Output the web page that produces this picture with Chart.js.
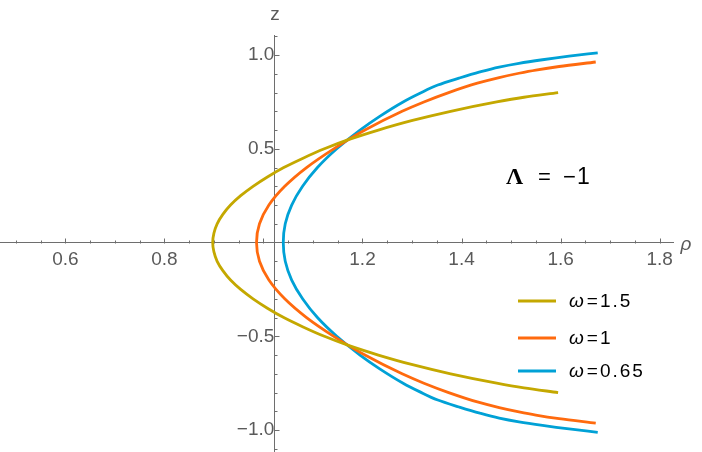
<!DOCTYPE html>
<html>
<head>
<meta charset="utf-8">
<script src="https://cdn.jsdelivr.net/npm/chart.js@4"></script>
<style>
  body { margin: 0; background: #fff; }
  canvas { display: block; }
</style>
</head>
<body>
<canvas id="plot" width="702" height="452"></canvas>
<script>
// curves: rho (x) and z (y), bottom end -> top end
var zW15 = [-0.80, -0.775, -0.75, -0.70, -0.65, -0.60, -0.55, -0.50, -0.45, -0.40, -0.35, -0.30, -0.25, -0.20, -0.15, -0.10, -0.05, 0,
            0.05, 0.10, 0.15, 0.20, 0.25, 0.30, 0.35, 0.40, 0.45, 0.50, 0.55, 0.60, 0.65, 0.70, 0.75, 0.775, 0.80];
var rhoW15 = [1.595, 1.526, 1.471, 1.378, 1.299, 1.232, 1.173, 1.123, 1.080, 1.041, 1.008, 0.979, 0.954, 0.9335, 0.918, 0.9065, 0.900, 0.8975,
              0.900, 0.9065, 0.918, 0.9335, 0.954, 0.979, 1.008, 1.041, 1.080, 1.123, 1.173, 1.232, 1.299, 1.378, 1.471, 1.526, 1.595];

var zW1 = [-0.963, -0.939, -0.92, -0.903, -0.88, -0.85, -0.80, -0.75, -0.70, -0.60, -0.50, -0.40, -0.30, -0.20, -0.10, 0,
           0.10, 0.20, 0.30, 0.40, 0.50, 0.60, 0.70, 0.75, 0.80, 0.85, 0.88, 0.903, 0.92, 0.939, 0.963];
var rhoW1 = [1.671, 1.597, 1.550, 1.516, 1.476, 1.432, 1.374, 1.324, 1.280, 1.205, 1.142, 1.087, 1.043, 1.011, 0.992, 0.986,
             0.992, 1.011, 1.043, 1.087, 1.142, 1.205, 1.280, 1.324, 1.374, 1.432, 1.476, 1.516, 1.550, 1.597, 1.671];

var zW065 = [-1.012, -0.994, -0.975, -0.956, -0.936, -0.91, -0.877, -0.84, -0.795, -0.75, -0.672, -0.60, -0.50, -0.40, -0.30, -0.20, -0.10, 0,
             0.10, 0.20, 0.30, 0.40, 0.50, 0.60, 0.672, 0.75, 0.795, 0.84, 0.877, 0.91, 0.936, 0.956, 0.975, 0.994, 1.012];
var rhoW065 = [1.675, 1.617, 1.5635, 1.516, 1.476, 1.437, 1.395, 1.352, 1.315, 1.282, 1.234, 1.195, 1.148, 1.109, 1.079, 1.057, 1.044, 1.040,
               1.044, 1.057, 1.079, 1.109, 1.148, 1.195, 1.234, 1.282, 1.315, 1.352, 1.395, 1.437, 1.476, 1.516, 1.5635, 1.617, 1.675];

var seriesLabels = ["1.5", "1", "0.65"];
var seriesColors = ["#C4A800", "#FF6A0E", "#00A1D6"];

var axisColor = "#6e6e6e";
var labelColor = "#5a5a5a";
var fontFam = "'Liberation Sans', Arial, sans-serif";

function toPoints(xs, ys) {
    return xs.map(function (v, i) { return { x: v, y: ys[i] }; });
}

// curves are single valued in z, so let z be the index axis for the spline
function makeSet(label, color, xs, ys) {
    return {
        label: label,
        data: toPoints(xs, ys),
        indexAxis: 'y',
        cubicInterpolationMode: 'monotone',
        borderColor: color,
        backgroundColor: color,
        borderWidth: 2.8,
        pointRadius: 0,
        fill: false,
        clip: false
    };
}

// small tick marks like mathematica (up for x axis, right for z axis)
var tickMarks = {
    id: 'tickMarks',
    beforeDatasetsDraw: function (chart) {
        var ctx = chart.ctx;
        var xs = chart.scales.x, ys = chart.scales.y;
        var x0 = Math.round(xs.getPixelForValue(ys.options.position.x)) + 0.5;
        var y0 = Math.round(ys.getPixelForValue(xs.options.position.y)) + 0.5;
        ctx.save();
        ctx.strokeStyle = axisColor;
        ctx.lineWidth = 1;
        ctx.beginPath();
        for (var i = 10; i <= 36; i++) {
            var px = Math.round(xs.getPixelForValue(i * 0.05)) + 0.5;
            var len = (i % 4 == 0) ? 5 : 3;
            ctx.moveTo(px, y0);
            ctx.lineTo(px, y0 - len);
        }
        for (var j = -11; j <= 11; j++) {
            if (j == 0) continue;
            var py = Math.round(ys.getPixelForValue(j * 0.1)) + 0.5;
            var ln = (j % 5 == 0) ? 5 : 3;
            ctx.moveTo(x0, py);
            ctx.lineTo(x0 + ln, py);
        }
        ctx.stroke();
        ctx.restore();
    }
};

var annotations = {
    id: 'annotations',
    afterDraw: function (chart) {
        var ctx = chart.ctx;
        ctx.save();
        // axis names
        ctx.fillStyle = labelColor;
        ctx.textBaseline = "alphabetic";
        ctx.textAlign = "center";
        ctx.font = "19px " + fontFam;
        ctx.fillText("z", 275, 20);
        ctx.font = "italic 19px " + fontFam;
        ctx.fillText("\u03C1", 686, 250);

        // Lambda = -1
        ctx.fillStyle = "#000";
        ctx.textAlign = "left";
        ctx.font = "bold 24px 'Liberation Serif', serif";
        ctx.fillText("\u039B", 506, 184);
        ctx.font = "22px " + fontFam;
        ctx.fillText("=", 538, 184);
        ctx.fillText("\u2212", 563, 184);
        ctx.font = "23px " + fontFam;
        ctx.fillText("1", 577, 184);

        // legend
        var rowsY = [301, 338, 371];
        chart.data.datasets.forEach(function (ds, k) {
            var y = rowsY[k];
            ctx.strokeStyle = ds.borderColor;
            ctx.lineWidth = 3;
            ctx.beginPath();
            ctx.moveTo(518, y);
            ctx.lineTo(556, y);
            ctx.stroke();
            ctx.fillStyle = "#000";
            ctx.textBaseline = "middle";
            ctx.letterSpacing = "2px";
            ctx.font = "italic 19px " + fontFam;
            ctx.fillText("\u03C9", 569, y + 1);
            var w = ctx.measureText("\u03C9").width;
            ctx.font = "19px " + fontFam;
            ctx.fillText("=" + ds.label, 569 + w + 1, y + 1);
        });
        ctx.restore();
    }
};

function fmt(v) {
    return v.toFixed(1).replace("-", "\u2212");
}

// axes sit inside the plot, so don't let their labels shrink the area
function noPad(scale) {
    scale.paddingTop = 0;
    scale.paddingBottom = 0;
    scale.paddingLeft = 0;
    scale.paddingRight = 0;
}

var plot = new Chart(document.getElementById("plot"), {
    type: "line",
    data: {
        datasets: [
            makeSet(seriesLabels[0], seriesColors[0], rhoW15, zW15),
            makeSet(seriesLabels[1], seriesColors[1], rhoW1, zW1),
            makeSet(seriesLabels[2], seriesColors[2], rhoW065, zW065)
        ]
    },
    options: {
        responsive: false,
        animation: false,
        layout: { padding: { left: 0, right: 29, top: 35, bottom: 0 } },
        plugins: {
            legend: { display: false },
            tooltip: { enabled: false }
        },
        scales: {
            x: {
                type: "linear",
                min: 0.468,
                max: 1.827,
                position: { y: 0 },
                afterFit: noPad,
                grid: { display: false, drawTicks: false },
                border: { display: true, color: axisColor, width: 1 },
                ticks: {
                    stepSize: 0.2,
                    includeBounds: false,
                    autoSkip: false,
                    maxRotation: 0,
                    padding: 6,
                    color: labelColor,
                    font: { size: 19, family: fontFam },
                    callback: function (v) {
                        var k = Math.round(v / 0.2);
                        if (Math.abs(v - k * 0.2) > 1e-6 || k == 5) return "";
                        return fmt(v);
                    }
                }
            },
            y: {
                type: "linear",
                min: -1.117,
                max: 1.107,
                position: { x: 1.022 },
                afterFit: noPad,
                grid: { display: false, drawTicks: false },
                border: { display: true, color: axisColor, width: 1 },
                ticks: {
                    stepSize: 0.5,
                    includeBounds: false,
                    autoSkip: false,
                    padding: 7,
                    color: labelColor,
                    font: { size: 19, family: fontFam },
                    callback: function (v) {
                        if (Math.abs(v) < 1e-6) return "";
                        return fmt(v);
                    }
                }
            }
        }
    },
    plugins: [tickMarks, annotations]
});
</script>
</body>
</html>
